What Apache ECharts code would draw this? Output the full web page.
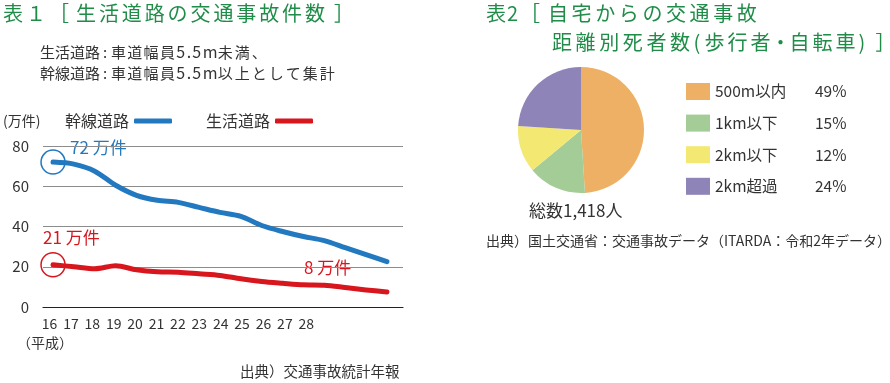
<!DOCTYPE html>
<html>
<head>
<meta charset="utf-8">
<script src="https://cdn.jsdelivr.net/npm/echarts@6/dist/echarts.min.js"></script>
<style>
html,body{margin:0;padding:0;background:#fff;}
#c{width:890px;height:383px;}
</style>
</head>
<body>
<div id="c"></div>
<script>
// ---- data ----
const yearLabels = ['16','17','18','19','20','21','22','23','24','25','26','27','28'];
const arterial = [72,71,67.5,60.5,55.5,53,52,49.5,47,45,40.5,37.5,35,33,29.5,26,22.5];   // 幹線道路 (万件)
const community = [21,20,19,20.5,18.5,17.5,17.3,16.5,15.7,14,12.7,11.8,11,10.8,9.7,8.5,7.5]; // 生活道路 (万件)
const yTicks = [0,20,40,60,80];
const pieNames = ['500m以内','1km以下','2km以下','2km超過'];
const pieValues = [49,15,12,24];
const pieTotal = '総数1,418人';

const FONT = '"Noto Sans CJK JP", "Noto Sans", sans-serif';
const BLUE = '#2279c0', RED = '#d8161e', GREEN = '#1f8d48', TXT = '#333';
const pieColors = ['#eeb064','#a3cc96','#f3e872','#8f84b8'];

// build fixed-pitch rich text (letter spacing)
function pitched(tokens, fontSize, color){
  const rich = {}; let text = '';
  tokens.forEach((t,i)=>{
    const k = 'r'+i;
    rich[k] = {width:t[1], fontSize:t[2]||fontSize, color:color, fontFamily:FONT, fontWeight:'normal'};
    text += '{'+k+'|'+t[0]+'}';
  });
  return {text, rich};
}
function cjk(str, w){ return [...str].map(ch=>[ch,w]); }
function subLine(prefix, suffix){
  return [].concat(cjk(prefix,15), [[' ',3],[':',8]], cjk('車道幅員',16.3),
    [['5',10.5,16],['.',5.5,16],['5',10.5,16],['m',15,16]], cjk(suffix,17));
}
const t1 = pitched([['表',23],['１',23],['［',27]].concat(cjk('生活道路の交通事故件数',22.9),[[' ',6],['］',22]]), 20, GREEN);
const t2a = pitched([['表',21],['2',13],['［',28]].concat(cjk('自宅からの交通事故',23.6)), 20, GREEN);
const t2b = pitched(cjk('距離別死者数',23.6).concat([['(',11]], [['歩',23],['行',23],['者',20],['・',19]], cjk('自転車',23), [[')',17],['］',22]]), 20, GREEN);
const s1 = pitched(subLine('生活道路','未満、'), 15, TXT);
const s2 = pitched(subLine('幹線道路','以上として集計'), 15, TXT);

const chart = echarts.init(document.getElementById('c'));
const idx = arr => arr.map((v,i)=>[i,v]);
const ttl = (o,left,top)=>({text:o.text, left, top, padding:0, textStyle:{rich:o.rich, fontFamily:FONT}});

chart.setOption({
  animation:false,
  textStyle:{fontFamily:FONT},
  title:[ ttl(t1,3,3), ttl(s1,40,44), ttl(s2,40,65), ttl(t2a,486,3), ttl(t2b,552,32) ],
  legend:[
    {data:['幹線道路','生活道路'], left:60, top:108, align:'right', icon:'roundRect',
      itemWidth:38, itemHeight:5, itemGap:34,
      textStyle:{color:TXT,fontSize:16,fontFamily:FONT}},
    {data:pieNames, orient:'vertical', left:681, top:78, itemWidth:24, itemHeight:17, itemGap:14.6,
      icon:'rect',
      formatter:name=>{const i=pieNames.indexOf(name);return '{n|'+name+'}{p|'+pieValues[i]+'%}';},
      textStyle:{color:TXT,fontSize:15,fontFamily:FONT,
        rich:{n:{width:100,fontSize:15.5,color:TXT,fontFamily:FONT},p:{fontSize:15.5,color:TXT,fontFamily:FONT}}}}
  ],
  grid:{left:43, right:487, top:146, bottom:76},
  xAxis:[
    {type:'value', min:-0.48, max:16.77, show:false},
    {type:'value', position:'bottom', min:-0.304, max:16.52,
      axisLine:{show:true,lineStyle:{color:'#222',width:1.2}},
      axisTick:{show:false}, splitLine:{show:false},
      axisLabel:{customValues:yearLabels.map((s,i)=>i), formatter:v=>yearLabels[Math.round(v)]||'',
        color:TXT, fontSize:14, margin:10, fontFamily:FONT}}
  ],
  yAxis:{type:'value', min:yTicks[0], max:yTicks[yTicks.length-1], interval:20,
    axisLine:{show:false}, axisTick:{show:false},
    splitLine:{lineStyle:{color:'#8c8c8c',width:1.2}},
    axisLabel:{color:TXT,fontSize:15,margin:14,fontFamily:FONT}},
  series:[
    {name:'幹線道路', type:'line', xAxisIndex:0, data:idx(arterial), smooth:0.3, showSymbol:false,
      itemStyle:{color:BLUE}, lineStyle:{color:BLUE,width:5,cap:'round',join:'round'},
      markPoint:{silent:true, data:[{coord:[0,arterial[0]], symbol:'circle', symbolSize:24,
        itemStyle:{color:'rgba(0,0,0,0)',borderColor:BLUE,borderWidth:1.5}, label:{show:false}}]}},
    {name:'生活道路', type:'line', xAxisIndex:0, data:idx(community), smooth:0.3, showSymbol:false,
      itemStyle:{color:RED}, lineStyle:{color:RED,width:5,cap:'round',join:'round'},
      markPoint:{silent:true, data:[{coord:[0,community[0]], symbol:'circle', symbolSize:24,
        itemStyle:{color:'rgba(0,0,0,0)',borderColor:RED,borderWidth:1.5}, label:{show:false}}]}},
    {name:'距離別', type:'pie', center:[581,130], radius:63, startAngle:90, clockwise:true,
      label:{show:false}, labelLine:{show:false}, silent:true,
      data:pieNames.map((n,i)=>({name:n,value:pieValues[i],itemStyle:{color:pieColors[i]}}))}
  ],
  graphic:[
    {type:'text', left:3, top:114, style:{text:'(万件)', fill:TXT, font:'14px '+FONT}},
    {type:'text', left:70, top:139, style:{text:'72 万件', fill:BLUE, font:'17px '+FONT}},
    {type:'text', left:43, top:229, style:{text:'21 万件', fill:RED, font:'17px '+FONT}},
    {type:'text', left:304, top:259, style:{text:'8 万件', fill:RED, font:'17px '+FONT}},
    {type:'text', left:17, top:336, style:{text:'（平成）', fill:TXT, font:'14px '+FONT}},
    {type:'text', left:240, top:364, style:{text:'出典）交通事故統計年報', fill:TXT, font:'14.5px '+FONT}},
    {type:'text', left:529, top:202, style:{text:pieTotal, fill:TXT, font:'17px '+FONT}},
    {type:'text', left:486, top:234, style:{text:'出典）国土交通省：交通事故データ（ITARDA：令和2年データ）', fill:TXT, font:'14px '+FONT}}
  ]
});
</script>
</body>
</html>
